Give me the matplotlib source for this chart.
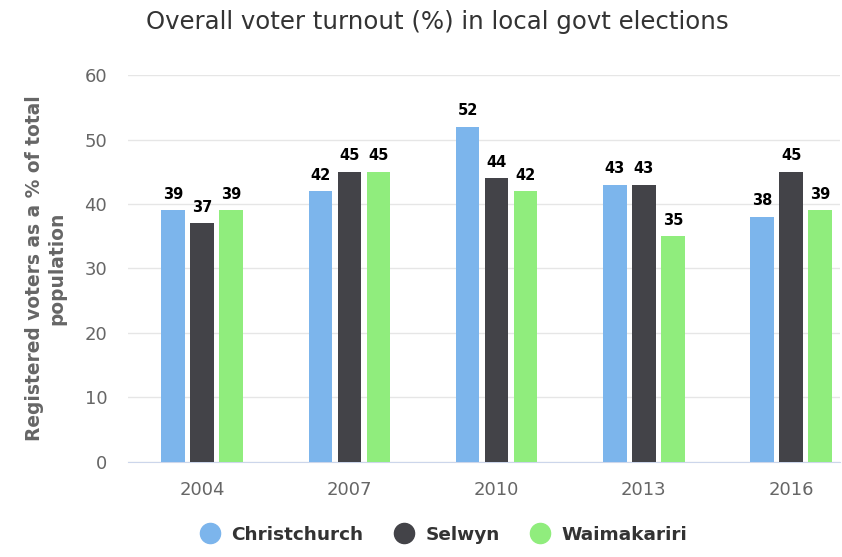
import matplotlib.pyplot as plt
from matplotlib.lines import Line2D
import numpy as np

years = ['2004', '2007', '2010', '2013', '2016']
christchurch = [39, 42, 52, 43, 38]
selwyn = [37, 45, 44, 43, 45]
waimakariri = [39, 45, 42, 35, 39]

series = [('Christchurch', christchurch, '#7cb5ec'),
          ('Selwyn', selwyn, '#434348'),
          ('Waimakariri', waimakariri, '#90ed7d')]

plt.rcParams['font.family'] = ['DejaVu Sans']

fig = plt.figure(figsize=(8.42, 5.57), dpi=100)
ax = fig.add_axes([0.152, 0.171, 0.846, 0.694])

x = np.arange(len(years))
width = 0.16
step = 0.197
for i, (name, vals, color) in enumerate(series):
    pos = x + (i - 1) * step
    bars = ax.bar(pos, vals, width, color=color, label=name, zorder=3)
    for b, v in zip(bars, vals):
        ax.text(b.get_x() + b.get_width() / 2, v + 1.8, str(v), ha='center', va='baseline',
                fontsize=10.5, fontweight='bold', color='#000000', zorder=4)

ax.set_xlim(-0.503, 4.334)
ax.set_ylim(0, 60)
ax.set_yticks(range(0, 61, 10))
ax.set_xticks(x)
ax.set_xticklabels(years)
ax.grid(axis='y', color='#e6e6e6', linewidth=1, zorder=0)
for s in ['top', 'right', 'left']:
    ax.spines[s].set_visible(False)
ax.spines['bottom'].set_color('#ccd6eb')
ax.tick_params(axis='both', length=0, labelsize=13, labelcolor='#666666')
ax.tick_params(axis='x', pad=14)
ax.tick_params(axis='y', pad=15)

fig.text(45.5 / 842, 1 - 268.5 / 557, 'Registered voters as a % of total\npopulation', rotation=90,
         ha='center', va='center', multialignment='center', fontsize=13.4, fontweight='bold',
         color='#666666', linespacing=1.25)

fig.text(0.519, 0.9605, 'Overall voter turnout (%) in local govt elections', ha='center', va='center',
         fontsize=17.6, color='#333333')

handles = [Line2D([], [], marker='o', linestyle='', markersize=14.5, color=c) for _, _, c in series]
fig.legend(handles, [n for n, _, _ in series], loc='center', bbox_to_anchor=(0.522, 0.04), ncol=3,
           frameon=False, handletextpad=0.15, columnspacing=1.2,
           prop={'size': 13.3, 'weight': 'bold'}, labelcolor='#333333')

fig.savefig('out.png', dpi=100)
